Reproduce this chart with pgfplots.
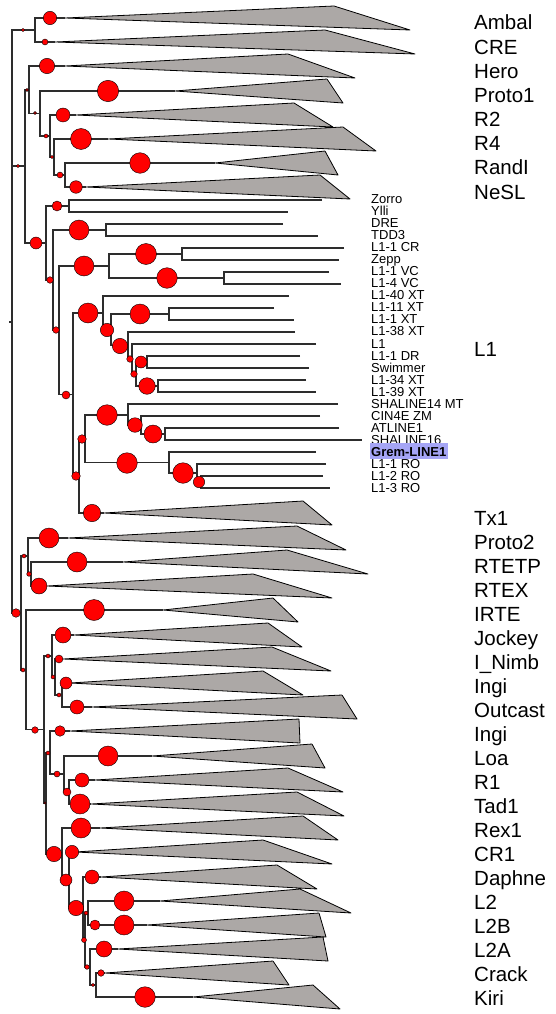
\documentclass[border=0pt]{standalone}
\usepackage{pgfplots}
\pgfplotsset{compat=1.18}
\usepackage{fontspec}
\setmainfont{Liberation Sans}
\definecolor{clade}{RGB}{172,168,166}
\definecolor{branch}{RGB}{45,45,45}
\definecolor{hl}{RGB}{165,165,245}
\definecolor{node}{RGB}{255,0,0}

\begin{document}
\begin{tikzpicture}[
  big/.style={anchor=base west, inner sep=0pt, font=\fontsize{20.5}{24}\selectfont},
  small/.style={anchor=base west, inner sep=0pt, font=\fontsize{13}{14}\selectfont}]
\begin{axis}[
  width=555pt, height=1014pt, scale only axis,
  xmin=0, xmax=555, ymin=0, ymax=1014, y dir=reverse,
  hide axis, clip=false, unbounded coords=jump]
\path (rel axis cs:0,0) rectangle (rel axis cs:1,1);

% collapsed clades: top corner, root, tip, top corner
\addplot[fill=clade, draw=black, line width=0.8pt, line join=round] table[row sep=\\] {
x y\\
334 6\\ 65 18\\ 410 30\\ 334 6\\ nan nan\\
325 30\\ 55 42\\ 415 54\\ 325 30\\ nan nan\\
288 54\\ 65 66\\ 355 78\\ 288 54\\ nan nan\\
327 79\\ 175 91\\ 343 103\\ 327 79\\ nan nan\\
294 103\\ 76 115\\ 333 127\\ 294 103\\ nan nan\\
343 127\\ 108 139\\ 376 151\\ 343 127\\ nan nan\\
325 151\\ 215 163\\ 338 175\\ 325 151\\ nan nan\\
320 175\\ 86 187\\ 350 199\\ 320 175\\ nan nan\\
303 501\\ 104 513\\ 332 525\\ 303 501\\ nan nan\\
297 526\\ 68 538\\ 346 550\\ 297 526\\ nan nan\\
287 550\\ 123 562\\ 368 574\\ 287 550\\ nan nan\\
253 574\\ 47 586\\ 332 598\\ 253 574\\ nan nan\\
273 598\\ 163 610\\ 298 622\\ 273 598\\ nan nan\\
268 623\\ 74 635\\ 302 647\\ 268 623\\ nan nan\\
272 647\\ 63 659\\ 331 671\\ 272 647\\ nan nan\\
263 671\\ 70 683\\ 303 695\\ 263 671\\ nan nan\\
342 695\\ 92 707\\ 357 719\\ 342 695\\ nan nan\\
299 719\\ 70 731\\ 300 743\\ 299 719\\ nan nan\\
312 744\\ 152 756\\ 325 768\\ 312 744\\ nan nan\\
288 768\\ 95 780\\ 343 792\\ 288 768\\ nan nan\\
297 792\\ 91 804\\ 344 816\\ 297 792\\ nan nan\\
303 816\\ 100 828\\ 338 840\\ 303 816\\ nan nan\\
263 840\\ 75 852\\ 332 864\\ 263 840\\ nan nan\\
277 865\\ 101 877\\ 317 889\\ 277 865\\ nan nan\\
300 889\\ 160 901\\ 351 913\\ 300 889\\ nan nan\\
319 913\\ 147 925\\ 326 937\\ 319 913\\ nan nan\\
323 937\\ 118 949\\ 328 961\\ 323 937\\ nan nan\\
273 961\\ 105 973\\ 289 985\\ 273 961\\ nan nan\\
313 985\\ 193 997\\ 340 1009\\ 313 985\\
};

% branches: one bracket per internal node
\addplot[branch, line width=1.1pt, line join=miter] table[row sep=\\] {
x y\\
35 30\\ 12 30\\ 12 613\\ 21 613\\ nan nan\\
12 166\\ 25 166\\ nan nan\\
9 322\\ 12 322\\ nan nan\\
65 18\\ 35 18\\ 35 42\\ 55 42\\ nan nan\\
29 90\\ 25 90\\ 25 243\\ 46 243\\ nan nan\\
65 66\\ 29 66\\ 29 113.5\\ 40 113.5\\ nan nan\\
175 91\\ 40 91\\ 40 136\\ 50 136\\ nan nan\\
76 115\\ 50 115\\ 50 157\\ 54 157\\ nan nan\\
108 139\\ 54 139\\ 54 175\\ 65 175\\ nan nan\\
215 163\\ 65 163\\ 65 187\\ 86 187\\ nan nan\\
69 206\\ 46 206\\ 46 280\\ 53 280\\ nan nan\\
322 200\\ 69 200\\ 69 212\\ 288 212\\ nan nan\\
106 230\\ 53 230\\ 53 330\\ 59 330\\ nan nan\\
283 224\\ 106 224\\ 106 236\\ 318 236\\ nan nan\\
109 266\\ 59 266\\ 59 394.5\\ 73 394.5\\ nan nan\\
182 254\\ 109 254\\ 109 278\\ 224 278\\ nan nan\\
344 248\\ 182 248\\ 182 260\\ 339 260\\ nan nan\\
329 272\\ 224 272\\ 224 284\\ 341 284\\ nan nan\\
103 313\\ 73 313\\ 73 476\\ 79 476\\ nan nan\\
289 296\\ 103 296\\ 103 330\\ 111 330\\ nan nan\\
169 314\\ 111 314\\ 111 345.5\\ 128 345.5\\ nan nan\\
274 308\\ 169 308\\ 169 320\\ 294 320\\ nan nan\\
295 332\\ 128 332\\ 128 359\\ 132 359\\ nan nan\\
316 344\\ 132 344\\ 132 374\\ 136 374\\ nan nan\\
147 362\\ 136 362\\ 136 386\\ 158 386\\ nan nan\\
300 356\\ 147 356\\ 147 368\\ 309 368\\ nan nan\\
306 380\\ 158 380\\ 158 392\\ 316 392\\ nan nan\\
85 439\\ 79 439\\ 79 513\\ 104 513\\ nan nan\\
128 415\\ 85 415\\ 85 462.5\\ 169 462.5\\ nan nan\\
338 404\\ 128 404\\ 128 425\\ 141 425\\ nan nan\\
320 416\\ 141 416\\ 141 434\\ 165 434\\ nan nan\\
339 428\\ 165 428\\ 165 440\\ 362 440\\ nan nan\\
316 452\\ 169 452\\ 169 473\\ 197 473\\ nan nan\\
326 464\\ 197 464\\ 197 482\\ 201 482\\ nan nan\\
323 476\\ 201 476\\ 201 488\\ 330 488\\ nan nan\\
28 556\\ 21 556\\ 21 670\\ 26 670\\ nan nan\\
68 538\\ 28 538\\ 28 574\\ 31 574\\ nan nan\\
123 562\\ 31 562\\ 31 586\\ 47 586\\ nan nan\\
163 610\\ 26 610\\ 26 729.5\\ 44 729.5\\ nan nan\\
52 656\\ 44 656\\ 44 803\\ 46 803\\ nan nan\\
74 635\\ 52 635\\ 52 677\\ 55 677\\ nan nan\\
63 659\\ 55 659\\ 55 695\\ 62 695\\ nan nan\\
70 683\\ 62 683\\ 62 707\\ 92 707\\ nan nan\\
50 752.5\\ 46 752.5\\ 46 854\\ 62 854\\ nan nan\\
70 731\\ 50 731\\ 50 774\\ 64 774\\ nan nan\\
152 756\\ 64 756\\ 64 792\\ 69 792\\ nan nan\\
95 780\\ 69 780\\ 69 804\\ 91 804\\ nan nan\\
100 828\\ 62 828\\ 62 880\\ 69 880\\ nan nan\\
75 852\\ 69 852\\ 69 908.5\\ 83 908.5\\ nan nan\\
101 877\\ 83 877\\ 83 940\\ 85 940\\ nan nan\\
88 913\\ 85 913\\ 85 967\\ 90 967\\ nan nan\\
160 901\\ 88 901\\ 88 925\\ 147 925\\ nan nan\\
118 949\\ 90 949\\ 90 985\\ 96 985\\ nan nan\\
105 973\\ 96 973\\ 96 997\\ 193 997\\
};

% node support: circle radius in pt
\addplot[scatter, only marks, mark=*,
  scatter/use mapped color={draw=none, fill=node},
  visualization depends on={\thisrow{r}\as\rad},
  scatter/@pre marker code/.append style={/tikz/mark size=\rad}]
  table[row sep=\\] {
x y r\\
23 30 1.7\\ 50 18 6.7\\ 45 42 3\\ 18 166 1.7\\ 27 90 1.5\\
47 66 7.7\\ 35 113 1.5\\ 108 91 10.7\\ 46 136 2\\ 63 115 7\\
52 157 1.7\\ 81 139 10.5\\ 60 175 3\\ 140 163 10.3\\ 76 187 6.3\\
36 243 6\\ 57 206 5\\ 50 280 3.3\\ 79 230 10\\ 56 330 3.3\\
84 266 10\\ 146 254 10.5\\ 167 278 10.3\\ 66 395 4\\ 88 313 10\\
107 330 6.7\\ 140 314 10\\ 120 346 7.7\\ 130 359 3.3\\ 134 374 3.3\\
141 362 6\\ 147 386 8.3\\ 76 476 4.3\\ 82 439 4.3\\ 107 415 10.3\\
135 425 7.3\\ 153 434 9\\ 127 463 10.3\\ 183 473 10.3\\ 199 482 5.7\\
92 513 8.7\\
16 613 4.3\\ 24 556 2\\ 49 538 10\\ 29 574 2.3\\ 77 562 10\\
39 586 8\\ 23 670 2\\ 94 610 10.5\\ 35 730 3.3\\ 48 656 2\\
63 635 8\\ 53 677 2\\ 59 659 4\\ 59 695 2\\ 66 683 6\\
77 707 7\\ 45 803 1.2\\ 48 753 2\\ 60 731 5.3\\ 57 774 3\\
108 756 10\\ 67 792 4\\ 82 780 7\\ 80 804 10\\ 54 854 7.7\\
81 828 10\\ 66 880 6\\ 72 852 6.7\\ 76 908 7.7\\ 92 877 7\\
84 940 2.5\\ 86 913 2\\ 124 901 10\\ 95 925 5\\ 124 925 10\\
87 967 2.3\\ 104 949 8\\ 93 985 1.7\\ 101 973 3.3\\ 145 997 10.3\\
};

% clade names
\node[big] at (axis cs:474,30) {Ambal};
\node[big] at (axis cs:474,54.1) {CRE};
\node[big] at (axis cs:474,78.3) {Hero};
\node[big] at (axis cs:474,102.4) {Proto1};
\node[big] at (axis cs:474,126.6) {R2};
\node[big] at (axis cs:474,150.7) {R4};
\node[big] at (axis cs:474,174.8) {RandI};
\node[big] at (axis cs:474,199) {NeSL};
\node[big] at (axis cs:474,356) {L1};
\node[big] at (axis cs:474,525) {Tx1};
\node[big] at (axis cs:474,549) {Proto2};
\node[big] at (axis cs:474,573) {RTETP};
\node[big] at (axis cs:474,597) {RTEX};
\node[big] at (axis cs:474,621) {IRTE};
\node[big] at (axis cs:474,645) {Jockey};
\node[big] at (axis cs:474,669) {I\_Nimb};
\node[big] at (axis cs:474,693) {Ingi};
\node[big] at (axis cs:474,717) {Outcast};
\node[big] at (axis cs:474,741) {Ingi};
\node[big] at (axis cs:474,765) {Loa};
\node[big] at (axis cs:474,789) {R1};
\node[big] at (axis cs:474,813) {Tad1};
\node[big] at (axis cs:474,837) {Rex1};
\node[big] at (axis cs:474,861) {CR1};
\node[big] at (axis cs:474,885) {Daphne};
\node[big] at (axis cs:474,909) {L2};
\node[big] at (axis cs:474,933) {L2B};
\node[big] at (axis cs:474,957) {L2A};
\node[big] at (axis cs:474,981) {Crack};
\node[big] at (axis cs:474,1005) {Kiri};

% L1 members
\node[small] at (axis cs:371,203) {Zorro};
\node[small] at (axis cs:371,215.1) {Ylli};
\node[small] at (axis cs:371,227.2) {DRE};
\node[small] at (axis cs:371,239.2) {TDD3};
\node[small] at (axis cs:371,251.3) {L1-1 CR};
\node[small] at (axis cs:371,263.4) {Zepp};
\node[small] at (axis cs:371,275.5) {L1-1 VC};
\node[small] at (axis cs:371,287.6) {L1-4 VC};
\node[small] at (axis cs:371,299.6) {L1-40 XT};
\node[small] at (axis cs:371,311.7) {L1-11 XT};
\node[small] at (axis cs:371,323.8) {L1-1 XT};
\node[small] at (axis cs:371,335.9) {L1-38 XT};
\node[small] at (axis cs:371,348) {L1};
\node[small] at (axis cs:371,360) {L1-1 DR};
\node[small] at (axis cs:371,372.1) {Swimmer};
\node[small] at (axis cs:371,384.2) {L1-34 XT};
\node[small] at (axis cs:371,396.3) {L1-39 XT};
\node[small] at (axis cs:371,408.4) {SHALINE14 MT};
\node[small] at (axis cs:371,420.4) {CIN4E ZM};
\node[small] at (axis cs:371,432.5) {ATLINE1};
\node[small] at (axis cs:371,444.6) {SHALINE16};
\node[small, fill=hl, inner xsep=1.5pt, text height=14pt, text depth=2.5pt, font=\fontsize{13}{14}\selectfont\bfseries] at (axis cs:369.5,456.7) {Grem-LINE1};
\node[small] at (axis cs:371,468.8) {L1-1 RO};
\node[small] at (axis cs:371,480.8) {L1-2 RO};
\node[small] at (axis cs:371,492.9) {L1-3 RO};
\end{axis}
\end{tikzpicture}
\end{document}
